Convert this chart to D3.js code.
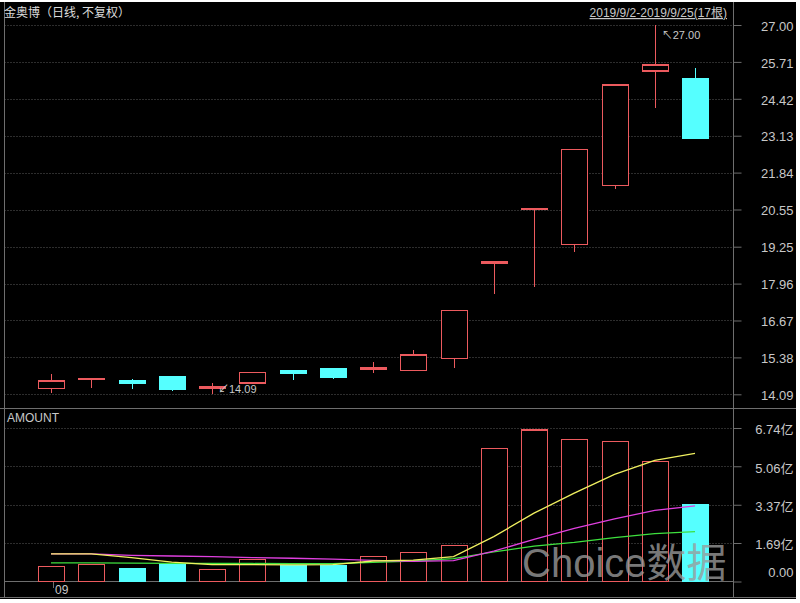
<!DOCTYPE html>
<html><head><meta charset="utf-8">
<script src="https://cdn.jsdelivr.net/npm/d3@7"></script>
<style>
html,body{margin:0;padding:0;background:#fff;}
svg{display:block;}
text{font-family:"Liberation Sans","Noto Sans CJK SC",Arial,sans-serif;}
</style></head><body>
<svg id="chart" width="800" height="603"></svg>
<script>
// ---- data ----
const dates = ["2019/9/2","2019/9/3","2019/9/4","2019/9/5","2019/9/6","2019/9/9","2019/9/10","2019/9/11","2019/9/12",
               "2019/9/16","2019/9/17","2019/9/18","2019/9/19","2019/9/20","2019/9/23","2019/9/24","2019/9/25"];
const openP  = [14.29,14.62,14.56,14.70,14.31,14.49,14.93,14.97,14.98,14.91,15.33,18.71,20.58,19.32,21.40,25.39,25.11];
const highP  = [14.79,14.66,14.61,14.73,14.47,14.87,14.95,15.02,15.23,15.64,17.01,18.71,20.58,22.64,24.90,27.00,25.48];
const lowP   = [14.12,14.31,14.26,14.22,14.09,14.47,14.58,14.64,14.84,14.91,15.01,17.59,17.83,19.05,21.28,24.09,23.04];
const closeP = [14.55,14.64,14.47,14.26,14.34,14.85,14.82,14.70,15.01,15.46,17.01,18.71,20.58,22.64,24.90,25.60,23.04];
const amount = [0.67,0.76,0.57,0.77,0.53,0.96,0.71,0.71,1.09,1.26,1.59,5.83,6.65,6.23,6.14,5.28,3.36]; // 亿
const maYellow  = [1.21,1.21,1.05,0.85,0.74,0.74,0.73,0.74,0.90,0.94,1.09,1.97,3.00,3.88,4.70,5.32,5.63];
const maMagenta = [1.21,1.21,1.15,1.12,1.09,1.05,1.02,0.98,0.93,0.88,0.92,1.33,1.85,2.33,2.75,3.12,3.32];
const maGreen   = [0.82,0.82,0.81,0.80,0.79,0.79,0.78,0.78,0.84,0.90,1.00,1.30,1.55,1.72,1.93,2.10,2.19];
const priceTicks = [14.09,15.38,16.67,17.96,19.25,20.55,21.84,23.13,24.42,25.71,27.00];
const amountTicks = [0,1.69,3.37,5.06,6.74];
const amountTickLabels = ["0.00","1.69亿","3.37亿","5.06亿","6.74亿"];
const xTickLabels = ["09"];
const titleText = "金奥博（日线, 不复权）";
const rangeText = "2019/9/2-2019/9/25(17根)";
const panelLabel = "AMOUNT";
const watermark = "Choice数据";

// ---- layout / style ----
const RED = "#ec5a5e", CYAN = "#55ffff", GRID = "#5a5a5a", FRAME = "#6e6e6e", TXT = "#c8c8c8";
const left = 4.5, right = 733.5;
const svg = d3.select("#chart");
svg.append("rect").attr("x",0).attr("y",2).attr("width",796).attr("height",597).attr("fill","#000");

const x = d3.scalePoint().domain(dates).range([51, 695]);
const bodyW = 26;
const yP = d3.scaleLinear().domain([14.09, 27.00]).range([394.3, 25]);
const yV = d3.scaleLinear().domain([0, 6.74]).range([581.5, 428]);

// gridlines
svg.append("g").selectAll("line").data(priceTicks).join("line")
  .attr("x1", left).attr("x2", right)
  .attr("y1", d => Math.round(yP(d)) + 0.5).attr("y2", d => Math.round(yP(d)) + 0.5)
  .attr("stroke", GRID).attr("stroke-dasharray", "1,2");
svg.append("g").selectAll("line").data(amountTicks.slice(1)).join("line")
  .attr("x1", left).attr("x2", right)
  .attr("y1", d => Math.round(yV(d)) + 0.5).attr("y2", d => Math.round(yV(d)) + 0.5)
  .attr("stroke", GRID).attr("stroke-dasharray", "1,2");

// frame lines
const frame = svg.append("g").attr("stroke", FRAME).attr("shape-rendering","crispEdges");
frame.append("line").attr("x1", left).attr("x2", left).attr("y1", 2).attr("y2", 598);
frame.append("line").attr("x1", right).attr("x2", right).attr("y1", 2).attr("y2", 598);
frame.append("line").attr("x1", 0).attr("x2", 796).attr("y1", 408.5).attr("y2", 408.5);
frame.append("line").attr("x1", left).attr("x2", right).attr("y1", 581.5).attr("y2", 581.5);
frame.append("line").attr("x1", 0).attr("x2", 796).attr("y1", 597.5).attr("y2", 597.5);

// price axis
const pAxis = svg.append("g").attr("transform", `translate(${right},0)`)
  .call(d3.axisRight(yP).tickValues(priceTicks).tickSize(8).tickFormat(d3.format(".2f")));
pAxis.select(".domain").remove();
pAxis.selectAll(".tick line").attr("stroke", FRAME);
pAxis.selectAll(".tick text").attr("x", 60).attr("text-anchor","end").attr("fill", TXT)
  .attr("font-size", 13).attr("dy", "0.4em");

// amount axis
const vAxis = svg.append("g").attr("transform", `translate(${right},0)`)
  .call(d3.axisRight(yV).tickValues(amountTicks).tickSize(8).tickFormat((d,i) => amountTickLabels[i]));
vAxis.select(".domain").remove();
vAxis.selectAll(".tick line").attr("stroke", FRAME);
vAxis.selectAll(".tick text").attr("x", 60).attr("text-anchor","end").attr("fill", TXT)
  .attr("font-size", 13).attr("dy", (d) => d === 0 ? "-0.35em" : "0.45em")
  .style("font-family", "'Liberation Sans','Noto Sans CJK SC',sans-serif");

// x axis label
svg.append("line").attr("x1", 53.5).attr("x2", 53.5).attr("y1", 582).attr("y2", 588).attr("stroke", FRAME);
svg.append("text").attr("x", 55).attr("y", 594).attr("fill", TXT).attr("font-size", 12).text(xTickLabels[0]);

// candles
const idx = d3.range(dates.length);
const isUp = i => closeP[i] >= openP[i];
const cg = svg.append("g").attr("shape-rendering","crispEdges");
cg.selectAll("line.wick").data(idx).join("line").attr("class","wick")
  .attr("x1", i => Math.round(x(dates[i])) + 0.5).attr("x2", i => Math.round(x(dates[i])) + 0.5)
  .attr("y1", i => yP(highP[i])).attr("y2", i => yP(lowP[i]))
  .attr("stroke", i => isUp(i) ? RED : CYAN).attr("stroke-width", 1.3);
cg.selectAll("rect.body").data(idx).join("rect").attr("class","body")
  .attr("x", i => Math.round(x(dates[i]) - bodyW/2) + 0.5)
  .attr("width", bodyW)
  .attr("y", i => yP(Math.max(openP[i], closeP[i])))
  .attr("height", i => Math.max(1, Math.abs(yP(openP[i]) - yP(closeP[i]))))
  .attr("fill", i => isUp(i) ? "#000" : CYAN)
  .attr("stroke", i => isUp(i) ? RED : CYAN).attr("stroke-width", 1.3);

// annotations
const iMax = highP.indexOf(d3.max(highP)), iMin = lowP.indexOf(d3.min(lowP));
svg.append("text").attr("x", x(dates[iMax]) + 7).attr("y", yP(highP[iMax]) + 14)
  .attr("fill", TXT).attr("font-size", 11).text("↖" + d3.format(".2f")(highP[iMax]));
svg.append("text").attr("x", x(dates[iMin]) + 6).attr("y", yP(lowP[iMin]) - 1)
  .attr("fill", TXT).attr("font-size", 11).text("↙" + d3.format(".2f")(lowP[iMin]));

// volume bars
const vg = svg.append("g").attr("shape-rendering","crispEdges");
vg.selectAll("rect").data(idx).join("rect")
  .attr("x", i => Math.round(x(dates[i]) - bodyW/2) + 0.5)
  .attr("width", bodyW)
  .attr("y", i => yV(amount[i]))
  .attr("height", i => yV(0) - yV(amount[i]))
  .attr("fill", i => isUp(i) ? "#000" : CYAN)
  .attr("stroke", i => isUp(i) ? RED : CYAN).attr("stroke-width", 1.2);

// MA lines
const line = d3.line().x((d,i) => x(dates[i])).y(d => yV(d));
[[maGreen,"#3ee03e"],[maMagenta,"#e040e0"],[maYellow,"#f0f060"]].forEach(([arr,col]) => {
  svg.append("path").datum(arr).attr("d", line).attr("fill","none").attr("stroke", col).attr("stroke-width", 1.3);
});

// watermark
svg.append("text").attr("x", 522).attr("y", 577).attr("fill", "#9a9a9a").attr("fill-opacity", 0.8)
  .attr("font-size", 40).style("font-family", "'Liberation Sans','Noto Sans CJK SC',sans-serif").text(watermark);

// titles
svg.append("text").attr("x", 4).attr("y", 17).attr("fill", "#dcdcdc").attr("font-size", 12)
  .style("font-family", "'Noto Sans CJK SC',sans-serif").text(titleText);
svg.append("text").attr("x", 727).attr("y", 17).attr("text-anchor","end").attr("fill", TXT).attr("font-size", 12)
  .attr("text-decoration","underline")
  .style("font-family", "'Liberation Sans','Noto Sans CJK SC',sans-serif").text(rangeText);
svg.append("text").attr("x", 7).attr("y", 422).attr("fill", TXT).attr("font-size", 12).text(panelLabel);
</script>
</body></html>
